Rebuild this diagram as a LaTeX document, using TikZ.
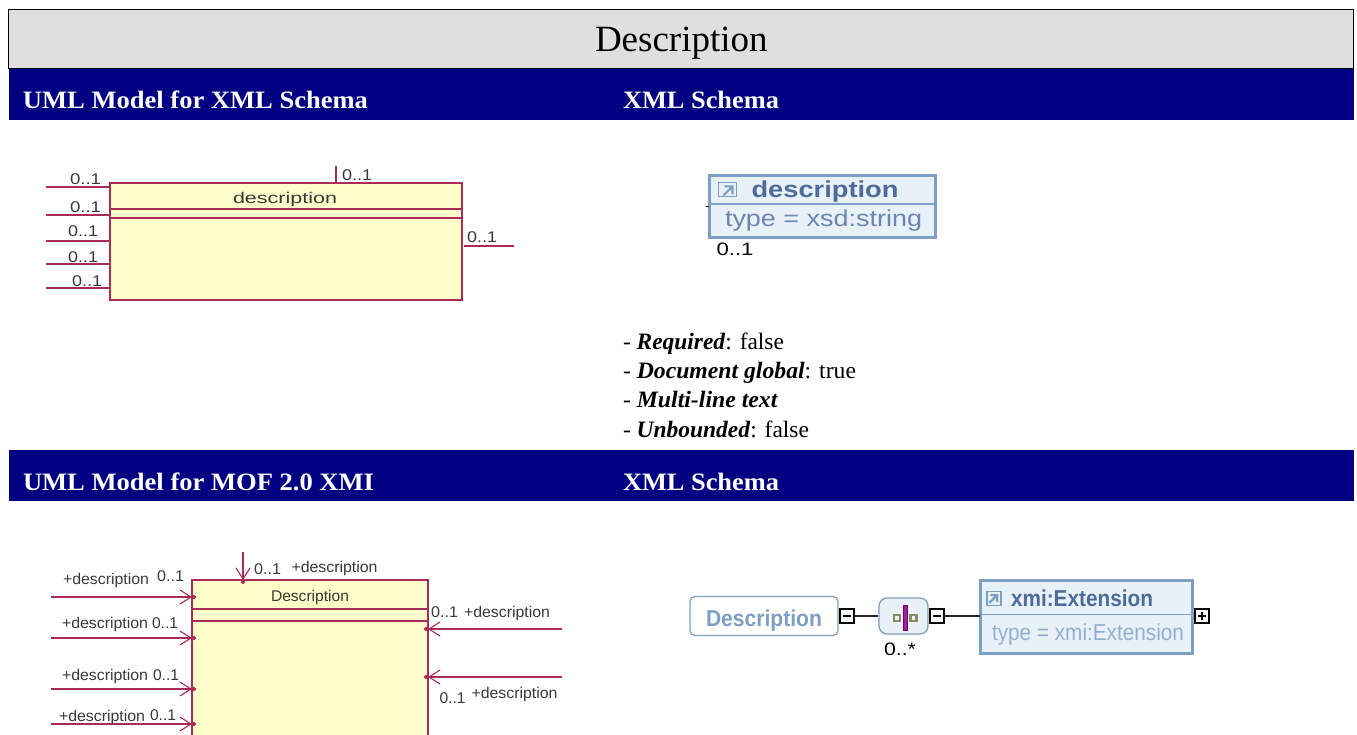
\documentclass[tikz,border=0pt]{standalone}
\usepackage{fontspec}
\usepackage{graphicx}
\setmainfont{Liberation Serif}
\setsansfont{Liberation Sans}
\usetikzlibrary{arrows.meta}
\definecolor{navyhead}{HTML}{000080}
\definecolor{titlegrey}{HTML}{DFDFDF}
\definecolor{umlline}{HTML}{A92B57}
\definecolor{umlfill}{HTML}{FEFECB}
\definecolor{umltext}{HTML}{3A3A3A}
\definecolor{xsdfill}{HTML}{E8F0F8}
\definecolor{xsdborder}{HTML}{7C9FC3}
\definecolor{xsdtitle}{HTML}{4F6B9A}
\definecolor{xsdtype}{HTML}{6A86AE}
\definecolor{xsdpale}{HTML}{93AFCE}
\definecolor{olive}{HTML}{8E8A60}
\definecolor{seqbar}{HTML}{A0209A}
\newcommand\fw[2]{\resizebox{#1pt}{\height}{#2}}
\newcommand\fs[1]{\fontsize{#1pt}{#1pt}\selectfont}
\tikzset{
  txt/.style={anchor=base west,inner sep=0pt,outer sep=0pt},
  head/.style={txt,text=white,font=\fs{25}\bfseries},
  bodytxt/.style={txt,font=\fs{23.5}},
  uml/.style={txt,text=umltext,font=\sffamily\fs{15.5}},
  umlbox/.style={draw=umlline,fill=umlfill,line width=1.4pt,inner sep=0pt,outer sep=0pt},
  umlrule/.style={draw=umlline,line width=1.4pt},
  stub/.style={draw=umlline,line width=1.3pt},
  arr/.style={draw=umlline,line width=1.4pt,-{Straight Barb[length=11pt,width=14pt,line width=1.1pt]Circle[length=4pt,sep=-4pt]}},
  xsdbox/.style={draw=xsdborder,fill=xsdfill,line width=3pt,inner sep=0pt,outer sep=0pt},
  xsdrule/.style={draw=xsdborder,line width=1.5pt},
  xsdt/.style={txt,font=\sffamily\fs{23}},
  xbox/.style={draw=black,fill=white,line width=1.4pt,minimum size=14pt,inner sep=0pt,outer sep=0pt},
  xline/.style={draw=black!85,line width=1.8pt},
  icon/.style={draw=xsdborder,fill=xsdfill,line width=1.4pt,inner sep=0pt},
  iconarrow/.style={draw=xsdborder,line width=2.2pt},
  sq/.style={draw=olive,fill=xsdfill,line width=2.2pt,minimum size=6pt,inner sep=0pt}
}
\begin{document}
\begin{tikzpicture}[x=1pt,y=-1pt]
\useasboundingbox (0,0) rectangle (1357,735);
\clip (0,0) rectangle (1357,735);
\fill[white] (0,0) rectangle (1357,735);
% title and headers
\node[draw=black,fill=titlegrey,line width=1pt,minimum width=1345pt,minimum height=59pt,inner sep=0pt] (title) at (681,39) {};
\node[txt,font=\fs{37}] (titletext) at (595,52) {Description};
\node[fill=navyhead,minimum width=1345pt,minimum height=51pt,inner sep=0pt] (bar1) at (681.5,94.5) {};
\node[fill=navyhead,minimum width=1345pt,minimum height=51pt,inner sep=0pt] (bar2) at (681.5,475.5) {};
\node[head] (h1) at (23,108.7) {\fw{345}{UML Model for XML Schema}};
\node[head] (h2) at (623,108.7) {\fw{156}{XML Schema}};
\node[head] (h3) at (23,490) {\fw{351}{UML Model for MOF 2.0 XMI}};
\node[head] (h4) at (623,490) {\fw{156}{XML Schema}};
% UML box 1
\node[umlbox,minimum width=352pt,minimum height=117pt] (box1) at (286,241.5) {};
\coordinate (r1) at (110,209); \coordinate (r2) at (110,218);
\draw[umlrule] (r1) -- (box1.east |- r1);
\draw[umlrule] (r2) -- (box1.east |- r2);
\node[uml] (n1) at (233,203.5) {\fw{104}{description}};
\foreach \i/\yy in {1/187,2/215,3/241,4/264,5/288}{
  \coordinate (s\i) at (46,\yy);
  \draw[stub] (s\i) -- (box1.west |- s\i);
}
\coordinate (st) at (336,166);
\draw[stub] (st) -- (box1.north -| st);
\coordinate (sr0) at (464,246); \coordinate (sr) at (514,246);
\draw[stub] (sr0) -- (sr);
\node[uml] (a1) at (70,184.5) {\fw{31}{0..1}};
\node[uml] (a2) at (70,212.5) {\fw{31}{0..1}};
\node[uml] (a3) at (68,237) {\fw{30}{0..1}};
\node[uml] (a4) at (68,262.5) {\fw{30}{0..1}};
\node[uml] (a5) at (72,287) {\fw{30}{0..1}};
\node[uml] (a6) at (342,180.5) {\fw{30}{0..1}};
\node[uml] (a7) at (467,243) {\fw{30}{0..1}};
% XSD 1
\node[xsdbox,minimum width=226pt,minimum height=62pt] (xs1) at (822,206.5) {};
\coordinate (xs1d) at (708,204);
\draw[xsdrule] (xs1d) -- (xs1.east |- xs1d);
\node[icon,minimum width=18pt,minimum height=14pt] (ic1) at (727.5,189.7) {};
\draw[iconarrow] (ic1.south) ++(-4,-2) -- ++(9,-9) ++(-8,0) -- ++(8,0) -- ++(0,8);
\node[xsdt,font=\sffamily\bfseries\fs{23},text=xsdtitle] (x1) at (751.5,198) {\fw{147}{description}};
\node[xsdt,text=xsdtype] (x2) at (725,226.5) {\fw{197}{type = xsd:string}};
\node[txt,font=\sffamily\fs{18}] (x3) at (716.5,255.7) {\fw{37}{0..1}};
\coordinate (d1) at (705.5,207);
\draw[black,line width=1pt] (d1) -- (xs1.west |- d1);
% bullet text
\node[bodytxt] (b1) at (623,349) {\fw{161}{- \textbf{\textit{Required}}: false}};
\node[bodytxt] (b2) at (623,378.5) {\fw{233}{- \textbf{\textit{Document global}}: true}};
\node[bodytxt] (b3) at (623,407.5) {\fw{155}{- \textbf{\textit{Multi-line text}}}};
\node[bodytxt] (b4) at (623,437) {\fw{186}{- \textbf{\textit{Unbounded}}: false}};
% UML box 2
\node[umlbox,minimum width=236pt,minimum height=200pt] (box2) at (310,680) {};
\coordinate (q1) at (192,609); \coordinate (q2) at (192,621);
\draw[umlrule] (q1) -- (box2.east |- q1);
\draw[umlrule] (q2) -- (box2.east |- q2);
\node[uml] (n2) at (271,601) {\fw{78}{Description}};
\foreach \i/\yy in {1/597,2/638,3/689,4/724}{
  \coordinate (l\i) at (51,\yy);
  \draw[arr] (l\i) -- (box2.west |- l\i);
}
\coordinate (t1) at (243,552);
\draw[arr] (t1) -- (box2.north -| t1);
\coordinate (ra) at (562,629); \coordinate (rb) at (562,677);
\draw[arr] (ra) -- (box2.east |- ra);
\draw[arr] (rb) -- (box2.east |- rb);
\node[uml] (c1) at (63,584) {\fw{86}{+description}};
\node[uml] (d2) at (157,581) {\fw{27}{0..1}};
\node[uml] (c2) at (62,628.3) {\fw{86}{+description}};
\node[uml] (d3) at (152,628.3) {\fw{26}{0..1}};
\node[uml] (c3) at (62,680.7) {\fw{86}{+description}};
\node[uml] (d4) at (153,680.7) {\fw{26}{0..1}};
\node[uml] (c4) at (59,721.7) {\fw{86}{+description}};
\node[uml] (d5) at (150,720) {\fw{26}{0..1}};
\node[uml] (d6) at (254,574) {\fw{27}{0..1}};
\node[uml] (c5) at (291.5,572.3) {\fw{86}{+description}};
\node[uml] (d7) at (431,617.7) {\fw{27}{0..1}};
\node[uml] (c6) at (464,617.7) {\fw{86}{+description}};
\node[uml] (d8) at (439.5,703.3) {\fw{26}{0..1}};
\node[uml] (c7) at (471.5,698.3) {\fw{86}{+description}};
% XSD 2
\node[draw=xsdborder,fill=white,line width=1.3pt,rounded corners=5pt,minimum width=148pt,minimum height=39pt,inner sep=0pt] (desc) at (764,616) {};
\node[txt,font=\sffamily\bfseries\fs{23},text=xsdborder] (desct) at (706,626.7) {\fw{116}{Description}};
\node[xbox] (m1) at (847,616) {};
\draw[black,line width=1.5pt] ([xshift=3pt]m1.west) -- ([xshift=-3pt]m1.east);
\node[draw=xsdborder,fill=xsdfill,line width=1.3pt,rounded corners=8pt,minimum width=49pt,minimum height=36pt,inner sep=0pt] (seq) at (903.5,616) {};
\draw[xline] (m1) -- (seq);
\node[sq] (sq1) at (897,618) {};
\node[sq] (sq2) at (913.5,618) {};
\node[fill=seqbar,draw=violet!90!black,line width=.5pt,minimum width=4pt,minimum height=25pt,inner sep=0pt] (bar) at (905,617.8) {};
\node[xbox] (m2) at (937,616) {};
\draw[black,line width=1.5pt] ([xshift=3pt]m2.west) -- ([xshift=-3pt]m2.east);
\node[txt,font=\sffamily\fs{18}] (m3) at (884,655) {\fw{32}{0..*}};
\node[xsdbox,minimum width=212pt,minimum height=73pt] (xs2) at (1086,616.8) {};
\draw[xline] (m2) -- (xs2.west |- m2);
\coordinate (xs2d) at (980,614.3);
\draw[xsdrule] (xs2d) -- (xs2.east |- xs2d);
\node[icon,minimum size=14pt] (ic2) at (994,598.2) {};
\draw[iconarrow] (ic2.south west) ++(3,-3) -- ++(8,-8) ++(-7,0) -- ++(7,0) -- ++(0,7);
\node[xsdt,font=\sffamily\bfseries\fs{23},text=xsdtitle] (y1) at (1011,606.7) {\fw{142}{xmi:Extension}};
\node[xsdt,text=xsdpale] (y2) at (992,640) {\fw{192}{type = xmi:Extension}};
\node[xbox] (p1) at (1202,616) {};
\draw[black,line width=1.5pt] ([xshift=3pt]p1.west) -- ([xshift=-3pt]p1.east);
\draw[black,line width=1.5pt] ([yshift=3pt]p1.south) -- ([yshift=-3pt]p1.north);
\end{tikzpicture}
\end{document}
